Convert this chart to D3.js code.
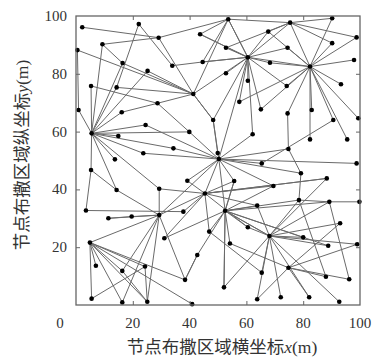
<!DOCTYPE html>
<html><head><meta charset="utf-8">
<script src="https://cdn.jsdelivr.net/npm/d3@7"></script>
<style>body{margin:0;background:#fff}</style>
</head><body>
<svg id="c" width="377" height="360"></svg>
<script>
// node coordinates (m), ids 1..101
const nodeX = [2.2,22.1,29.1,9.3,0.5,16.4,33.9,44.6,43.7,25.2,5.3,14.3,41.3,28.7,0.9,53.6,75.4,90.2,67.7,98.8,
90.2,52.8,74.5,60.5,68.3,97.9,82.4,52.8,60.5,74.2,93.3,57.5,65.1,83.0,16.1,5.5,14.9,24.5,39.9,48.3,
74.5,90.6,99.4,23.7,34.3,50.3,13.7,5.3,62.2,82.4,95.5,74.8,65.4,98.8,39.2,29.3,14.3,45.4,79.2,88.3,
55.7,69.5,3.5,11.4,19.6,29.3,37.8,52.5,63.8,78.5,89.2,99.8,31.1,46.9,4.9,60.5,54.2,68.1,80.0,93.0,
88.8,99.0,42.7,7.0,16.3,24.3,38.4,74.8,65.4,88.0,96.2,52.1,5.5,16.3,25.1,40.9,63.8,72.1,82.1,92.7,49.9];
const nodeY = [96.1,97.2,92.5,90.2,88.2,83.7,82.8,84.1,93.7,81.0,75.8,75.3,73.0,69.8,67.5,98.9,97.7,99.2,94.6,92.6,
90.6,89.0,89.0,85.7,83.8,84.8,82.5,80.2,77.6,75.8,76.4,70.3,67.7,67.5,66.7,59.4,58.5,62.3,59.9,64.0,
66.3,64.0,64.6,52.5,54.2,50.5,50.4,46.7,59.1,57.3,57.3,54.0,49.0,49.0,43.0,40.2,39.8,38.6,45.6,43.8,
42.9,41.2,32.7,30.0,30.6,31.1,32.3,32.6,34.4,36.3,35.7,35.7,23.1,25.4,21.6,26.9,21.3,23.9,23.4,28.3,
20.5,21.0,17.3,13.6,11.8,13.3,8.7,12.9,11.2,9.8,8.9,6.1,2.2,0.9,1.1,0.3,2.0,2.7,2.7,1.1,52.6];
// links between node ids
const edgeFrom = [1,3,4,5,6,2,2,3,3,7,8,9,10,12,14,11,9,8,13,16,16,17,13,13,5,
36,36,36,36,36,36,36,36,36,36,36,36,36,36,36,36,35,
44,38,14,39,45,48,48,56,56,
24,24,24,24,24,24,24,24,24,24,24,24,24,24,24,24,24,
27,27,27,27,27,27,27,27,27,27,27,27,27,27,27,27,27,
17,17,17,17,49,52,52,52,53,53,51,54,59,59,60,60,61,61,62,62,62,55,55,101,101,40,40,
58,58,58,58,58,58,58,58,63,
68,68,68,68,68,68,68,68,68,68,68,
66,66,66,66,66,66,66,66,66,
75,75,75,75,75,75,75,
93,86,64,73,83,
78,78,78,78,78,78,78,78,78,78,78,78,78,
88,88,88,88,88,92,92,100,90,91,79,80,70,71,99,89,76,81,85,85,87];
const edgeTo = [3,4,6,13,13,12,7,13,16,8,24,24,13,13,13,14,16,16,16,24,17,18,24,40,15,
11,15,12,6,10,35,37,38,39,44,45,47,48,57,56,4,14,
46,46,39,46,46,63,57,58,66,
17,19,22,23,8,25,28,29,30,32,33,27,40,46,49,9,16,
18,17,20,21,26,31,30,34,41,42,43,23,25,19,50,33,32,
19,22,21,20,46,41,59,46,46,42,27,46,46,70,58,78,46,68,46,58,68,46,58,46,40,46,13,
46,61,66,67,73,74,69,60,67,
46,61,69,70,71,74,76,77,78,83,92,
57,64,65,75,87,94,95,85,46,
84,93,94,86,96,87,95,
86,95,65,68,87,
68,76,69,70,71,80,79,81,82,89,97,98,99,
97,90,91,82,77,78,68,78,70,71,68,88,71,72,88,74,58,68,75,95,83];
const tickVals = [20,40,60,80,100];
const xTitle = ["节点布撒区域横坐标","x","(m)"];
const yTitle = ["节点布撒区域纵坐标","y","(m)"];

const svg = d3.select("#c");
const x = d3.scaleLinear([0,100],[76,360]);
const y = d3.scaleLinear([0,100],[305,16]);
const edges = edgeFrom.map((f,i)=>[f-1, edgeTo[i]-1]);

svg.append("g").selectAll("line").data(edges).join("line")
  .attr("x1",d=>x(nodeX[d[0]])).attr("y1",d=>y(nodeY[d[0]]))
  .attr("x2",d=>x(nodeX[d[1]])).attr("y2",d=>y(nodeY[d[1]]))
  .attr("stroke","#6a6a6a").attr("stroke-width",1);

svg.append("g").selectAll("circle").data(nodeX).join("circle")
  .attr("cx",d=>x(d)).attr("cy",(d,i)=>y(nodeY[i])).attr("r",2.3).attr("fill","#000");

// frame + inner ticks
const inner = [20,40,60,80];
const fr = svg.append("g").attr("stroke","#666").attr("fill","none");
fr.append("rect").attr("x",x(0)).attr("y",y(100)).attr("width",x(100)-x(0)).attr("height",y(0)-y(100)).attr("stroke-width",1.3);
const ax = [
  [d3.axisBottom(x), `translate(0,${y(0)})`],
  [d3.axisTop(x), `translate(0,${y(100)})`],
  [d3.axisLeft(y), `translate(${x(0)},0)`],
  [d3.axisRight(y), `translate(${x(100)},0)`]
];
ax.forEach(([a,t])=>{
  const g = svg.append("g").attr("transform",t)
    .call(a.tickValues(inner).tickSize(-4).tickFormat(""));
  g.select(".domain").remove();
  g.selectAll("line").attr("stroke","#666");
});

const num = {"font-family":"'Liberation Serif','DejaVu Serif',serif","font-size":"15px","fill":"#333"};
const tx = svg.append("g").selectAll("text").data(tickVals).join("text")
  .attr("x",d=>x(d)).attr("y",328).attr("text-anchor","middle").text(d=>d);
const ty = svg.append("g").selectAll("text").data(tickVals).join("text")
  .attr("x",67).attr("y",d=>y(d)+5).attr("text-anchor","end").text(d=>d);
const t0 = svg.append("text").attr("x",x(0)-16).attr("y",328).attr("text-anchor","middle").text("0");
[tx,ty,t0].forEach(s=>{for(const k in num) s.attr(k,num[k]);});

function title(sel, parts){
  sel.attr("font-size","17.5px").attr("fill","#333").attr("text-anchor","middle");
  sel.append("tspan").attr("font-family","'Noto Sans CJK SC',sans-serif").text(parts[0]);
  sel.append("tspan").attr("font-family","'Liberation Serif',serif").attr("font-style","italic").text(parts[1]);
  sel.append("tspan").attr("font-family","'Liberation Serif',serif").text(parts[2]);
}
title(svg.append("text").attr("x",222).attr("y",353), xTitle);
title(svg.append("text").attr("transform","translate(28,155) rotate(-90)"), yTitle);
</script>
</body></html>
